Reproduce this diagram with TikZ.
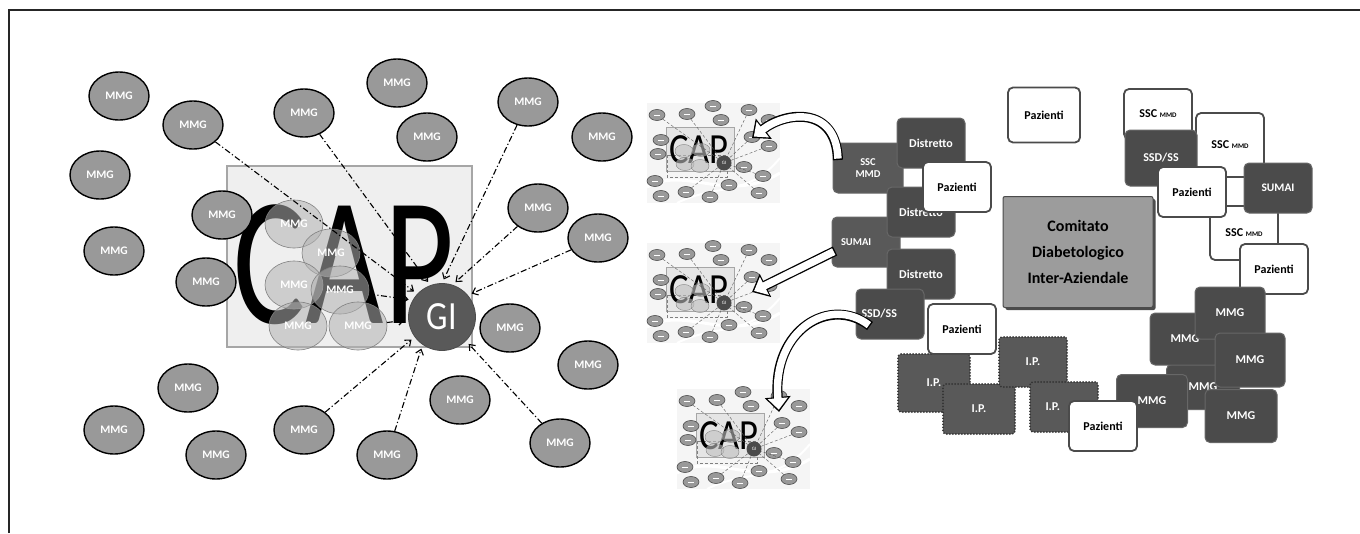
\documentclass[tikz,border=0pt]{standalone}
\usepackage{graphicx}
\usepackage{fontspec}
\setmainfont{Carlito}
\usetikzlibrary{shapes.geometric,arrows.meta,shadows}
\definecolor{mmggray}{HTML}{999999}
\definecolor{capgray}{HTML}{EFEFEF}
\definecolor{boxdark}{HTML}{4B4B4B}
\definecolor{boxmid}{HTML}{595959}
\definecolor{boxedge}{HTML}{676767}
\definecolor{comgray}{HTML}{9C9C9C}
\newcommand\hollowarrow[1]{\draw[hollowout] #1; \draw[hollowin] #1;}
\tikzset{
  mmg/.style={ellipse,draw=black,line width=1.4pt,fill=mmggray,minimum width=60pt,minimum height=48pt,inner sep=0pt,text=white,font=\bfseries\fontsize{11.5}{11.5}\selectfont},
  mmgin/.style={mmg,draw=gray,line width=0.6pt,fill=gray!60,fill opacity=0.55,text opacity=1,minimum width=58pt},
  link/.style={-{Straight Barb[length=5pt,width=8pt]},line width=1.1pt,dash pattern=on 6pt off 2.5pt on 1.2pt off 2.5pt,shorten >=4pt},
  dbox/.style={rectangle,rounded corners=5pt,fill=boxdark,draw=boxedge,line width=1pt,text=white,font=\bfseries\fontsize{12}{12}\selectfont,minimum width=68pt,minimum height=50pt,align=center},
  wbox/.style={dbox,fill=white,draw=boxdark,line width=1.8pt,text=black},
  ipbox/.style={dbox,fill=boxmid,draw=black!80,line width=2pt,dash pattern=on 0pt off 3pt,line cap=round,rounded corners=3pt},
  tmmg/.style={ellipse,draw=black!70,line width=0.6pt,fill=mmggray,minimum width=16pt,minimum height=11pt,inner sep=0pt,path picture={\draw[white,line width=0.8pt] ([xshift=-3pt]path picture bounding box.center) -- ([xshift=3pt]path picture bounding box.center);}},
  tin/.style={ellipse,draw=gray,line width=0.4pt,fill=gray!50,fill opacity=0.6,minimum width=18pt,minimum height=13pt,inner sep=0pt},
  hollowout/.style={line width=10pt,-{Triangle[length=15pt,width=25pt]}},
  hollowin/.style={line width=7.4pt,white,shorten >=2.3pt,shorten <=1.4pt,-{Triangle[length=11.5pt,width=19.5pt]}},
  thumb/.pic={
    \fill[gray!8] (0,0) rectangle (133,100);
    \draw[white,line width=3pt] (0,84) .. controls (40,62) and (80,102) .. (133,70);
    \draw[white,line width=2pt] (30,100) .. controls (70,80) and (100,95) .. (133,55);
    \node[rectangle,draw=gray!70,fill=gray!20,line width=0.6pt,minimum width=68pt,minimum height=44pt] (-box) at (53,46) {};
    \draw[gray,densely dashed,line width=0.5pt] (20,52) rectangle (80,74);
    \node[inner sep=0pt] (-cap) at (52,47) {\scalebox{0.85}[1]{\fontsize{43}{43}\selectfont CAP}};
    \foreach \p [count=\i] in {{37,48},{54,47},{38,61},{53,63}}
      \node[tin] (-i\i) at (\p) {};
    \foreach \p [count=\i] in {{10,12},{40,11},{66,3},{74,17},{102,7},{122,17},{14,37},{105,34},{122,43},{11,51},{97,64},{116,73},{8,78},{82,82},{112,90},{14,93},{39,89},{63,94}}
      \node[tmmg] (-c\i) at (\p) {};
    \node[circle,fill=boxdark,minimum size=15pt,inner sep=0pt,text=white,font=\fontsize{5}{5}\selectfont] (-gi) at (77,60) {GI};
    \foreach \i in {1,2,5,8,9,12,15,17,18}
      \draw[gray!70!black,densely dashed,line width=0.4pt] (-c\i) -- (-gi);
  }
}
\begin{document}
\begin{tikzpicture}[x=1pt,y=-1pt]
\useasboundingbox (0,0) rectangle (1360,533);
\draw[gray!30!black,line width=1.5pt] (9,533) -- (9,10) -- (1360,10);
\node[rectangle,draw=gray!70,fill=capgray,line width=1.2pt,minimum width=245pt,minimum height=181pt] (capbox) at (349.5,256.5) {};
\node[inner sep=0pt] (cap) at (344,265) {\scalebox{0.74}[1]{\fontsize{183}{183}\selectfont CAP}};
\foreach \p [count=\i] in {{119,96},{193,125},{304,113},{397,83},{427,137},{528,102},{602,137},{100,175},{222,215},{114,251},{206,282},{538,208},{598,238},{510,328},{588,365},{188,388},{114,430},{216,455},{304,430},{387,455},{460,400},{560,443}}
  \node[mmg] (c\i) at (\p) {MMG};
\foreach \p [count=\i] in {{294,224},{331,253},{294,285},{340,290},{298,326},{358,326}}
  \node[mmgin] (i\i) at (\p) {MMG};
\node[circle,fill=boxmid,draw=gray!60!black,line width=0.8pt,minimum size=67pt,inner sep=0pt,text=white] (gi) at (442,317) {\scalebox{0.85}[1]{\fontsize{40}{40}\selectfont GI}};
\draw[link] (c2) -- (gi.137);
\draw[link] (c3) -- (gi.110);
\draw[link] (c6) -- (gi.90);
\draw[link] (c12) -- (gi.72);
\draw[link] (c13) -- (gi.40);
\draw[link] (i4) -- (gi.150);
\draw[link] (i6) -- (gi.185);
\draw[link] (c19) -- (gi.216);
\draw[link] (c20) -- (gi.235);
\draw[link] (c22) -- (gi.315);
\pic (t1) at (647,103) {thumb};
\pic (t2) at (647,243) {thumb};
\pic (t3) at (677,389) {thumb};
\node[dbox,fill=boxmid,minimum width=70pt,font=\bfseries\fontsize{10.5}{12}\selectfont] (sscl) at (868,168) {SSC\\MMD};
\node[dbox,fill=boxmid,text width=50pt,align=left,font=\bfseries\fontsize{10.5}{12}\selectfont] (sumail) at (866,242) {SUMAI};
\node[dbox] (dist1) at (931,143) {Distretto};
\node[dbox] (dist2) at (921,212) {Distretto};
\node[wbox] (pazl1) at (957,187) {Pazienti};
\node[dbox] (dist3) at (921,274) {Distretto};
\node[dbox,text width=57pt,align=left] (ssdl) at (890,314) {SSD/SS};
\node[ipbox,minimum width=72pt,minimum height=58pt] (ip1) at (934,383) {I.P.};
\node[wbox] (pazl2) at (962,329) {Pazienti};
\node[ipbox,minimum width=72pt] (ip2) at (979,409) {I.P.};
\node[ipbox] (ip3) at (1033,362) {I.P.};
\node[ipbox,text width=37pt,align=left] (ip4) at (1064,407) {I.P.};
\node[wbox,minimum width=72pt,minimum height=55pt] (paztop) at (1044,115) {Pazienti};
\node[dbox,fill=comgray,draw=boxdark,text=black,rounded corners=2pt,minimum width=150pt,minimum height=111pt,font=\bfseries\fontsize{16}{26}\selectfont,drop shadow={shadow xshift=2.5pt,shadow yshift=-2.5pt,fill=black!70,opacity=1}] (cdi) at (1078,252) {Comitato\\Diabetologico\\Inter-Aziendale};
\node[wbox] (sscr1) at (1158,114) {SSC {\fontsize{7}{7}\selectfont MMD}};
\node[wbox,minimum height=64pt] (sscr2) at (1230,145) {SSC {\fontsize{7}{7}\selectfont MMD}};
\node[dbox,minimum width=72pt,minimum height=56pt] (ssdr) at (1161,158) {SSD/SS};
\node[wbox,minimum height=54pt] (sscr3) at (1244,233) {SSC {\fontsize{7}{7}\selectfont MMD}};
\node[wbox] (pazr1) at (1192,192) {Pazienti};
\node[dbox,font=\bfseries\fontsize{11.5}{12}\selectfont] (sumair) at (1278,188) {SUMAI};
\node[wbox] (pazr2) at (1274,269) {Pazienti};
\node[dbox,minimum width=73pt,minimum height=45pt] (mmgd) at (1203,387) {MMG};
\node[dbox,minimum width=70pt,minimum height=52pt] (mmgb) at (1185,339) {MMG};
\node[dbox,minimum width=70pt,minimum height=52pt] (mmga) at (1230,313) {MMG};
\node[dbox,minimum width=70pt,minimum height=54pt] (mmgc) at (1250,360) {MMG};
\node[dbox,minimum width=71pt,minimum height=53pt] (mmge) at (1152,401) {MMG};
\node[dbox,minimum width=72pt,minimum height=53pt] (mmgf) at (1241,416) {MMG};
\node[wbox] (pazb) at (1103,426) {Pazienti};
\coordinate (a1s) at (838,160);
\coordinate (a1e) at (752,138);
\coordinate (a2s) at (835,251);
\coordinate (a2e) at (752,292);
\coordinate (a3s) at (870,326);
\coordinate (a3e) at (779,412);
\hollowarrow{(a1s) .. controls (836,105) and (785,112) .. (a1e)}
\hollowarrow{(a2s) -- (a2e)}
\hollowarrow{(a3s) .. controls (830,295) and (772,330) .. (a3e)}
\end{tikzpicture}
\end{document}
